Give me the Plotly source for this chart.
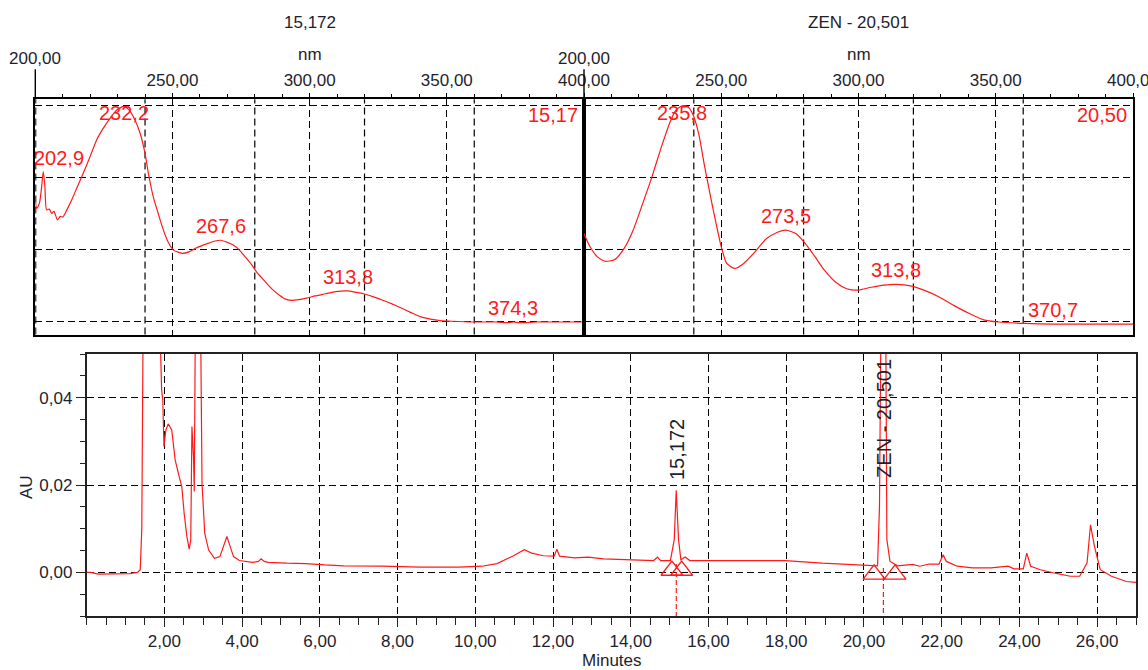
import numpy as np
import plotly.graph_objects as go

# ---------------- data ----------------
# UV spectrum of peak at 15,172 min (relative absorbance units)
WL_15 = [200.0, 200.5, 201.5, 202.2, 202.9, 203.5, 204.1, 205.1, 206.0, 206.8, 208.1, 209.1,
         210.0, 211.5, 213.3, 215.1, 217.5, 220.0, 222.4, 224.8, 227.3, 229.7, 232.2, 234.0,
         235.7, 238.2, 240.0, 241.2, 243.0, 244.8, 246.7, 248.5, 250.5, 253.5, 256.0, 258.4,
         261.0, 263.2, 265.5, 267.6, 270.0, 272.3, 274.5, 276.5, 278.7, 280.7, 282.8, 284.9,
         287.0, 289.0, 291.0, 293.2, 296.0, 298.8, 302.0, 305.8, 309.5, 313.8, 317.0, 319.7,
         323.0, 326.7, 330.0, 333.6, 337.0, 340.6, 344.0, 347.6, 352.0, 360.0, 368.0, 372.0,
         374.3, 376.5, 383.0, 390.0, 400.0]
ABS_15 = [1.69, 1.57, 1.64, 1.83, 2.08, 1.87, 1.55, 1.56, 1.50, 1.53, 1.41, 1.46,
          1.45, 1.55, 1.69, 1.85, 2.06, 2.29, 2.52, 2.68, 2.82, 2.93, 2.98, 2.94,
          2.84, 2.61, 2.33, 2.06, 1.73, 1.50, 1.27, 1.10, 0.99, 0.95, 0.97, 1.02,
          1.06, 1.09, 1.12, 1.13, 1.10, 1.06, 0.99, 0.90, 0.80, 0.69, 0.60, 0.51,
          0.43, 0.37, 0.32, 0.30, 0.31, 0.33, 0.36, 0.39, 0.42, 0.43, 0.41, 0.39,
          0.35, 0.30, 0.25, 0.19, 0.13, 0.07, 0.04, 0.02, 0.01, 0.00, 0.00, -0.01,
          0.00, -0.01, 0.00, 0.00, 0.00]
PEAKS_15 = [202.9, 232.2, 267.6, 313.8, 374.3]

# UV spectrum of ZEN peak at 20,501 min
WL_ZEN = [200.0, 202.2, 204.9, 207.6, 211.1, 214.5, 217.9, 221.3, 224.7, 228.1, 231.5, 233.5,
          235.8, 237.7, 239.7, 241.8, 243.8, 245.9, 247.9, 250.0, 252.0, 254.8, 258.2, 262.3,
          266.4, 270.5, 273.5, 277.3, 280.7, 284.2, 287.5, 291.7, 295.7, 299.8, 304.6, 309.4,
          313.8, 319.0, 323.8, 329.2, 334.7, 340.2, 345.6, 351.0, 360.6, 370.7, 385.0, 400.0]
ABS_ZEN = [1.22, 1.04, 0.90, 0.84, 0.86, 1.01, 1.27, 1.63, 2.00, 2.41, 2.78, 2.93,
           2.99, 2.98, 2.87, 2.60, 2.18, 1.77, 1.40, 1.04, 0.81, 0.74, 0.81, 0.97,
           1.15, 1.24, 1.27, 1.22, 1.08, 0.90, 0.72, 0.55, 0.46, 0.44, 0.48, 0.51,
           0.52, 0.50, 0.44, 0.35, 0.23, 0.12, 0.03, 0.00, -0.02, -0.03, -0.03, -0.03]
PEAKS_ZEN = [235.8, 273.5, 313.8, 370.7]

# Chromatogram (minutes, AU)
TIME_MIN = [0.00, 0.10, 0.30, 0.60, 0.90, 1.10, 1.31, 1.38, 1.42, 1.45, 1.50, 1.70, 1.85,
            1.90, 1.93, 1.96, 1.99, 2.04, 2.10, 2.19, 2.28, 2.36, 2.45, 2.51, 2.58, 2.64,
            2.68, 2.71, 2.75, 2.77, 2.80, 2.85, 2.92, 2.97, 3.04, 3.14, 3.29, 3.43, 3.53,
            3.61, 3.68, 3.78, 3.93, 4.27, 4.42, 4.49, 4.57, 4.67, 5.15, 5.64, 6.13, 6.62,
            7.60, 8.59, 9.58, 10.17, 10.56, 10.96, 11.26, 11.45, 11.75, 12.03, 12.10, 12.17,
            12.55, 12.90, 13.30, 13.91, 14.59, 14.69, 14.77, 15.02, 15.12, 15.17, 15.23,
            15.29, 15.40, 15.52, 16.04, 17.00, 17.97, 18.93, 19.90, 20.35, 20.40, 20.44,
            20.50, 20.56, 20.59, 20.67, 20.87, 21.25, 21.44, 21.68, 21.93, 22.04, 22.12,
            22.40, 22.79, 23.27, 23.71, 23.86, 24.10, 24.19, 24.29, 24.54, 24.92, 25.31,
            25.55, 25.74, 25.83, 25.93, 26.08, 26.37, 26.75, 27.00]
AU = [0.0000, 0.0000, -0.0004, -0.0004, -0.0004, -0.0003, 0.0000, 0.0006, 0.0100, 0.0600,
      0.1200, 0.1500, 0.0900, 0.0520, 0.0418, 0.0395, 0.0288, 0.0326, 0.0340, 0.0326,
      0.0257, 0.0227, 0.0196, 0.0135, 0.0082, 0.0053, 0.0074, 0.0334, 0.0265, 0.0185,
      0.0600, 0.1000, 0.0700, 0.0204, 0.0089, 0.0051, 0.0032, 0.0036, 0.0059, 0.0082,
      0.0063, 0.0036, 0.0027, 0.0023, 0.0025, 0.0031, 0.0025, 0.0023, 0.0021, 0.0020,
      0.0017, 0.0015, 0.0014, 0.0012, 0.0012, 0.0014, 0.0020, 0.0037, 0.0052, 0.0044,
      0.0038, 0.0037, 0.0053, 0.0037, 0.0033, 0.0035, 0.0031, 0.0029, 0.0027, 0.0035,
      0.0027, 0.0027, 0.0075, 0.0188, 0.0075, 0.0029, 0.0035, 0.0027, 0.0027, 0.0026,
      0.0027, 0.0021, 0.0016, 0.0015, 0.0150, 0.0600, 0.1000, 0.0600, 0.0075, 0.0025,
      0.0015, 0.0018, 0.0014, 0.0019, 0.0019, 0.0040, 0.0025, 0.0014, 0.0010, 0.0010,
      0.0014, 0.0008, 0.0008, 0.0044, 0.0014, 0.0006, -0.0002, -0.0009, -0.0009, 0.0021,
      0.0109, 0.0060, 0.0006, -0.0009, -0.0021, -0.0023]

PEAK_NAMES = ["15,172", "ZEN - 20,501"]
PEAK_RT = [15.172, 20.501]
PEAK_HEIGHT = [0.0188, None]          # None = off scale
PEAK_START = [15.06, 20.26]
PEAK_END = [15.31, 20.80]
PEAK_BASE = [0.0026, 0.0017]

WL_TICKS = [250, 300, 350, 400]
WL_GRID = [200, 240, 280, 320, 360]
TIME_TICKS = [2, 4, 6, 8, 10, 12, 14, 16, 18, 20, 22, 24, 26]
AU_TICKS = [0.0, 0.02, 0.04]

# ---------------- layout helpers ----------------
W, H = 1148, 670
def fx(px):
    return px / W
def fy(py):
    return 1 - py / H

RED = "#ff1a1a"
INK = "#1e1e2c"
FONT = "Liberation Sans, Arial, sans-serif"
GRID_DASH = "7px,4px"

SPEC_RANGE = [-0.173, 3.079]
SPEC_TOP_PX, SPEC_BOT_PX = 99.3, 334.5
CH_TOP_PX, CH_BOT_PX = 354.0, 616.0
AU_RANGE = [-0.01, 0.05]
T_RANGE = [0, 27]

panels = [
    dict(xa="xaxis", ya="yaxis", xr="x", yr="y", x0=35.3, x1=584.0,
         wl=WL_15, ab=ABS_15, peaks=PEAKS_15, title="15,172", corner="15,17"),
    dict(xa="xaxis2", ya="yaxis2", xr="x2", yr="y2", x0=584.0, x1=1133.0,
         wl=WL_ZEN, ab=ABS_ZEN, peaks=PEAKS_ZEN, title="ZEN - 20,501", corner="20,50"),
]

fig = go.Figure()
annotations = []
shapes = []
layout_axes = {}

spec_units_per_px = (SPEC_RANGE[1] - SPEC_RANGE[0]) / (SPEC_BOT_PX - SPEC_TOP_PX)

for p in panels:
    fig.add_trace(go.Scatter(x=p["wl"], y=p["ab"], mode="lines", xaxis=p["xr"], yaxis=p["yr"],
                             line=dict(color=RED, width=1.2, shape="spline", smoothing=0.6),
                             hoverinfo="skip"))
    nm_per_px = 200.0 / (p["x1"] - p["x0"])
    layout_axes[p["xa"]] = dict(
        domain=[fx(p["x0"]), fx(p["x1"])], anchor=p["yr"], side="top", range=[200, 400],
        automargin=False, ticklabeloverflow="allow",
        tickmode="array", tickvals=WL_TICKS, tickformat=".2f",
        ticks="outside", ticklen=5, tickwidth=1.3, tickcolor="black",
        showline=True, linecolor="black", linewidth=1.5, mirror=True,
        showgrid=True, gridcolor="black", gridwidth=1.2, griddash=GRID_DASH,
        zeroline=False, tickfont=dict(size=17, color=INK, family=FONT),
        minor=dict(tick0=200, dtick=10, ticks="outside", ticklen=4, tickwidth=1.2,
                   tickcolor="black", showgrid=False),
    )
    layout_axes[p["ya"]] = dict(
        domain=[fy(SPEC_BOT_PX), fy(SPEC_TOP_PX)], anchor=p["xr"], range=SPEC_RANGE,
        automargin=False,
        tick0=0, dtick=1, showticklabels=False, ticks="",
        showline=True, linecolor="black", linewidth=1.5, mirror=True,
        showgrid=True, gridcolor="black", gridwidth=1.2, griddash=GRID_DASH, zeroline=False,
    )
    for g in WL_GRID:
        shapes.append(dict(type="line", xref=p["xr"], yref=p["yr"] + " domain", x0=g, x1=g,
                           y0=0, y1=1, layer="below",
                           line=dict(color="black", width=2 if g == 200 else 1.2, dash=GRID_DASH)))
    # raised 200,00 label with long tick
    annotations.append(dict(xref=p["xr"], yref=p["yr"] + " domain", x=200, y=1,
                            text="200,00", showarrow=True, arrowhead=0, arrowwidth=1.4,
                            arrowcolor="black", ax=0, ay=-41, standoff=0,
                            font=dict(size=17, color=INK, family=FONT)))
    # header title + unit
    cx = fx((p["x0"] + p["x1"]) / 2)
    annotations.append(dict(xref="paper", yref="paper", x=cx, y=fy(23), text=p["title"],
                            xanchor="center", yanchor="middle", showarrow=False,
                            font=dict(size=17, color=INK, family=FONT)))
    annotations.append(dict(xref="paper", yref="paper", x=cx, y=fy(54.5), text="nm",
                            xanchor="center", yanchor="middle", showarrow=False,
                            font=dict(size=17, color=INK, family=FONT)))
    # retention time in the corner
    annotations.append(dict(xref=p["xr"] + " domain", yref=p["yr"] + " domain", x=1, y=1,
                            xanchor="right", yanchor="top", xshift=-4, yshift=-3,
                            text=p["corner"], showarrow=False,
                            font=dict(size=20, color=RED, family=FONT)))
    # lambda-max labels, kept inside the panel
    half_w_nm = 24 * nm_per_px
    off = 14 * spec_units_per_px
    ymax = 3.0 - 8 * spec_units_per_px
    for nm in p["peaks"]:
        v = float(np.interp(nm, p["wl"], p["ab"]))
        xc = min(max(nm, 200 + half_w_nm), 400 - half_w_nm)
        yc = min(v + off, ymax)
        annotations.append(dict(xref=p["xr"], yref=p["yr"], x=xc, y=yc,
                                xanchor="center", yanchor="middle",
                                text=f"{nm:.1f}".replace(".", ","), showarrow=False,
                                font=dict(size=20, color=RED, family=FONT)))

# ---------------- chromatogram ----------------
fig.add_trace(go.Scatter(x=TIME_MIN, y=AU, mode="lines", xaxis="x3", yaxis="y3",
                         line=dict(color=RED, width=1.2), hoverinfo="skip"))

au_per_px = (AU_RANGE[1] - AU_RANGE[0]) / (CH_BOT_PX - CH_TOP_PX)
tri_size = 19
tri_x, tri_y = [], []
for s, e, b in zip(PEAK_START, PEAK_END, PEAK_BASE):
    for t in (s, e):
        tri_x.append(t)
        tri_y.append(b - (tri_size / 2) * au_per_px)
fig.add_trace(go.Scatter(x=tri_x, y=tri_y, mode="markers", xaxis="x3", yaxis="y3",
                         marker=dict(symbol="triangle-up-open", size=tri_size,
                                     color=RED, line=dict(color=RED, width=1.3)),
                         hoverinfo="skip"))

for name, rt, h, b in zip(PEAK_NAMES, PEAK_RT, PEAK_HEIGHT, PEAK_BASE):
    shapes.append(dict(type="line", xref="x3", yref="y3", x0=rt, x1=rt,
                       y0=b - 3 * au_per_px, y1=AU_RANGE[0],
                       line=dict(color=RED, width=1.2, dash="5px,3px")))
    if h is not None:
        annotations.append(dict(xref="x3", yref="y3", x=rt, y=h, xanchor="center",
                                yanchor="bottom", yshift=8,
                                textangle=-90, text=name, showarrow=False,
                                font=dict(size=20, color=INK, family=FONT)))
    else:
        annotations.append(dict(xref="x3", yref="y3 domain", x=rt, y=1, xanchor="center",
                                yanchor="top", yshift=-3, textangle=-90, text=name,
                                showarrow=False, font=dict(size=20, color=INK, family=FONT)))

layout_axes["xaxis3"] = dict(
    domain=[fx(86.6), fx(1136.0)], anchor="y3", range=T_RANGE, automargin=False,
    tickmode="array", tickvals=TIME_TICKS, tickformat=".2f",
    ticks="outside", ticklen=9, tickwidth=1.3, tickcolor="#222",
    showline=True, linecolor="#222", linewidth=1.5, mirror=True,
    showgrid=True, gridcolor="black", gridwidth=1.2, griddash=GRID_DASH, zeroline=False,
    tickfont=dict(size=17, color=INK, family=FONT),
    minor=dict(tick0=0, dtick=0.5, ticks="outside", ticklen=7, tickwidth=1.2,
               tickcolor="#222", showgrid=False),
)
layout_axes["yaxis3"] = dict(
    domain=[fy(CH_BOT_PX), fy(CH_TOP_PX)], anchor="x3", range=AU_RANGE, automargin=False,
    tickmode="array", tickvals=AU_TICKS, tickformat=".2f",
    ticks="outside", ticklen=9, tickwidth=1.3, tickcolor="#222",
    showline=True, linecolor="#222", linewidth=1.5, mirror=True,
    showgrid=True, gridcolor="black", gridwidth=1.2, griddash=GRID_DASH, zeroline=False,
    tickfont=dict(size=17, color=INK, family=FONT),
    minor=dict(tick0=0, dtick=0.005, ticks="outside", ticklen=5, tickwidth=1.2,
               tickcolor="#222", showgrid=False),
)

annotations.append(dict(xref="paper", yref="paper", x=fx(26), y=fy(487), text="AU",
                        xanchor="center", yanchor="middle", textangle=-90, showarrow=False,
                        font=dict(size=17, color=INK, family=FONT)))
annotations.append(dict(xref="paper", yref="paper", x=fx(611.5), y=fy(660), text="Minutes",
                        xanchor="center", yanchor="middle", showarrow=False,
                        font=dict(size=17, color=INK, family=FONT)))

fig.update_layout(
    width=W, height=H, autosize=False, margin=dict(l=0, r=0, t=0, b=0, pad=0, autoexpand=False),
    paper_bgcolor="white", plot_bgcolor="white", showlegend=False,
    separators=",.", font=dict(family=FONT, size=17, color=INK),
    annotations=annotations, shapes=shapes, **layout_axes,
)

# keep every drawn element inside the 1148x670 page (labels at the edge are clipped)
CLIP_JS = (
    "document.documentElement.style.overflow='hidden';"
    "document.body.style.overflow='hidden';document.body.style.margin='0';"
    "var ss=document.querySelectorAll('svg.main-svg');"
    "for(var i=0;i<ss.length;i++){ss[i].style.overflow='hidden';}"
)
fig.write_html("out.html", config={"responsive": False}, post_script=CLIP_JS)
